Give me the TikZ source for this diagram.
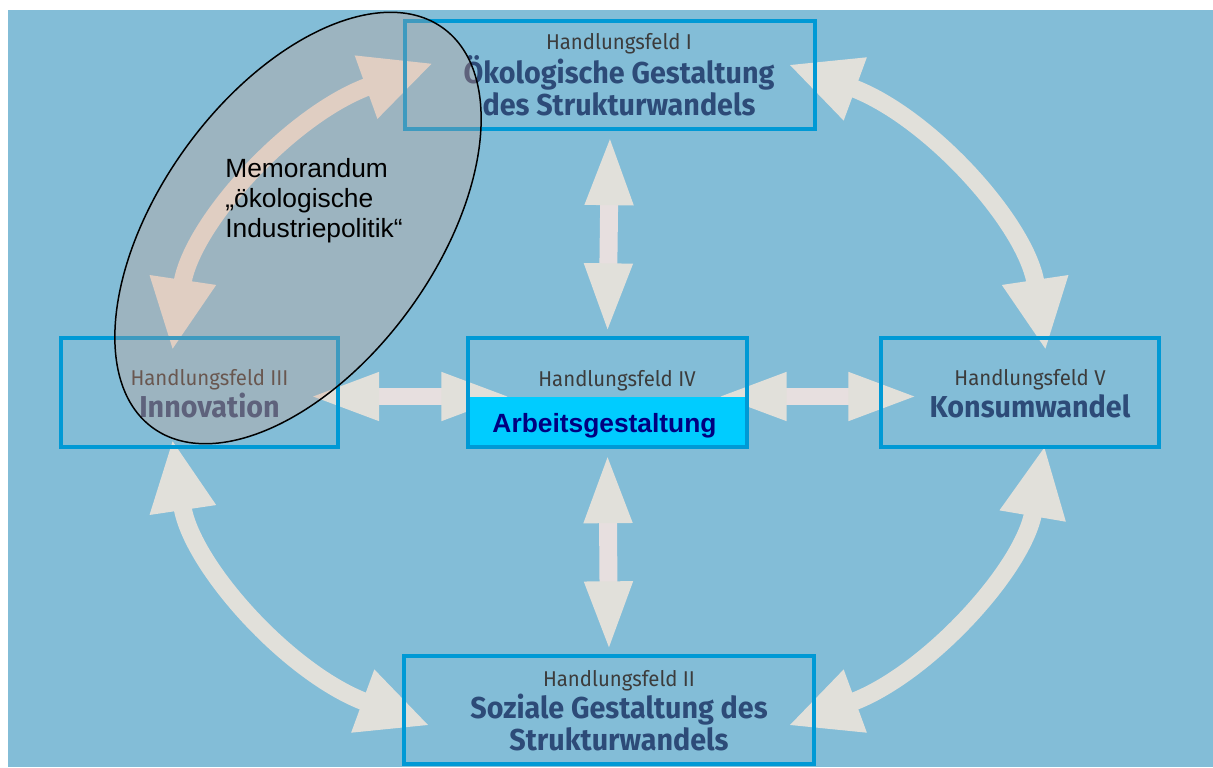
\documentclass[tikz,border=0pt]{standalone}
\usepackage{fontspec}
\setmainfont{Liberation Sans}
\newfontfamily\feldfont[FakeStretch=0.95]{Fira Sans}
\usetikzlibrary{arrows.meta,calc,backgrounds}

\definecolor{bg}{RGB}{131,189,215}
\definecolor{frame}{RGB}{0,153,213}
\definecolor{cyanband}{RGB}{0,204,255}
\definecolor{arrowgrey}{RGB}{225,224,218}
\definecolor{shaftpink}{RGB}{231,223,223}
\definecolor{feldgrey}{RGB}{60,60,60}
\definecolor{titleblue}{RGB}{45,75,120}
\definecolor{arbnavy}{RGB}{0,0,128}
\definecolor{memo}{RGB}{224,160,135}

\newcommand\titlefont{\feldfont\bfseries\fontsize{17.2}{18.2}\selectfont}
\newcommand\feldnr[1]{{\feldfont\mdseries\fontsize{12.2}{13}\selectfont\color{feldgrey}#1}}

\begin{document}
\begin{tikzpicture}[x=0.02cm,y=0.02cm,yscale=-1,
    feld/.style={draw=frame,line width=2.3pt,outer sep=0pt,inner sep=0pt,
      minimum width=5.56cm,minimum height=2.18cm},
    breit/.style={feld,minimum width=8.2cm,minimum height=2.16cm},
    feldtext/.style={align=center,inner sep=0pt,text=titleblue,font=\titlefont},
    pfeil/.style={draw=shaftpink,line width=10.2pt,<->,
      >={Triangle[length=40.8pt,width=24.4pt,color=arrowgrey,fill=arrowgrey]}},
    bogen/.style={draw=arrowgrey,line width=10.2pt,<->,
      >={Triangle[length=40.8pt,width=35pt]}}]
  \useasboundingbox (0,0) rectangle (1213,767);

  % the five fields
  \node[breit] (hf1) at (610,75) {};
  \node[breit] (hf2) at (609,710) {};
  \node[feld] (hf3) at (199.5,392.5) {};
  \node[feld,minimum width=5.58cm] (hf4) at (607.5,392.5) {};
  \node[feld] (hf5) at (1020,392.5) {};
  \coordinate (ring) at (609,395);

  \begin{scope}[on background layer]
    \fill[bg] (8,10) rectangle (1213,767);
    % straight arrows
    \draw[pfeil] ($(hf1.south)+(0,4.5)$) -- ($(hf4.north)+(0,-3)$);
    \draw[pfeil] ($(hf4.south)+(0,4.5)$) -- ($(hf2.north)+(0,-3)$);
    \draw[pfeil] ($(hf3.east)+(-31,4)$) -- ($(hf4.west)+(45,4)$);
    \draw[pfeil] ($(hf4.east)+(-32,4)$) -- ($(hf5.west)+(39,4)$);
    % ring of curved arrows
    \draw[bogen] ($(ring)+(187:440 and 362)$)
      arc[start angle=187,end angle=246.5,x radius=440,y radius=362];
    \draw[bogen] ($(ring)+(-66:440 and 362)$)
      arc[start angle=-66,end angle=-7,x radius=440,y radius=362];
    \draw[bogen] ($(ring)+(8:440 and 362)$)
      arc[start angle=8,end angle=66,x radius=440,y radius=362];
    \draw[bogen] ($(ring)+(114:440 and 362)$)
      arc[start angle=114,end angle=173,x radius=440,y radius=362];
    \fill[cyanband] ($(hf4.west)+(0,4.5)$) rectangle (hf4.south east);
  \end{scope}

  \node[feldtext] (t1) at ($(hf1)+(9,0)$)
    {\feldnr{Handlungsfeld I}\\Ökologische Gestaltung\\des Strukturwandels};
  \node[feldtext] (t2) at ($(hf2)+(10,1)$)
    {\feldnr{Handlungsfeld II}\\Soziale Gestaltung des\\Strukturwandels};
  \node[feldtext] (t3) at ($(hf3)+(10,1)$) {\feldnr{Handlungsfeld III}\\Innovation};
  \node[feldtext] (t5) at ($(hf5)+(10,1)$) {\feldnr{Handlungsfeld V}\\Konsumwandel};
  \node[anchor=base,inner sep=0pt] (t4) at ($(hf4)+(9.5,-6.5)$) {\feldnr{Handlungsfeld IV}};
  \node[anchor=base,inner sep=0pt,text=arbnavy,font=\bfseries\fontsize{15}{17}\selectfont]
    (arb) at ($(hf4)+(-3,39.5)$) {Arbeitsgestaltung};

  % memorandum overlay
  \filldraw[fill=memo,fill opacity=0.28,draw=black,line width=0.85pt,
    rotate around={-54:(298,228)}] (298,228) ellipse [x radius=247,y radius=138];
  \node[anchor=north west,align=left,inner sep=0pt,font=\fontsize{15}{17}\selectfont]
    (memo) at (225,158) {Memorandum\\„ökologische\\Industriepolitik“};
\end{tikzpicture}
\end{document}
